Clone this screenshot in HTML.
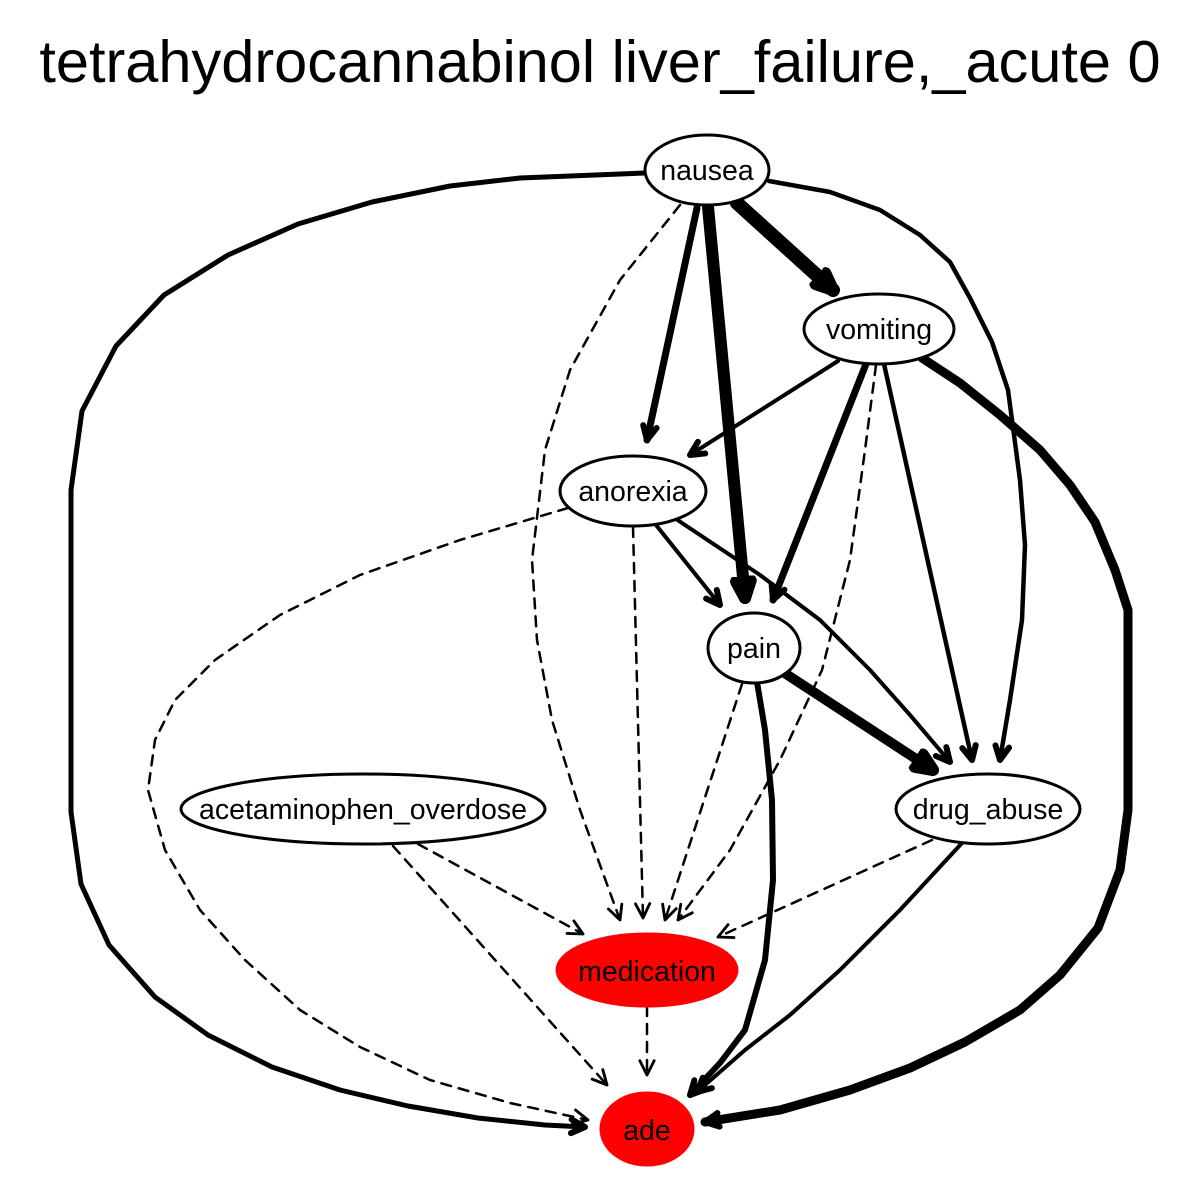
<!DOCTYPE html>
<html><head><meta charset="utf-8"><style>html,body{margin:0;padding:0;background:#fff}svg{display:block}</style></head>
<body>
<svg width="1200" height="1200" viewBox="0 0 1200 1200" xmlns="http://www.w3.org/2000/svg">
<defs>
<marker id="a" markerUnits="userSpaceOnUse" markerWidth="20" markerHeight="20" refX="10" refY="5" viewBox="-2 -2 14 14" orient="auto"><path d="M0,0 L10,5 L0,10" fill="none" stroke="#000" stroke-width="2" stroke-linejoin="round" stroke-linecap="round"/></marker>
<marker id="b" markerUnits="userSpaceOnUse" markerWidth="24" markerHeight="24" refX="8" refY="5" viewBox="-2 -2 14 14" orient="auto"><path d="M0,1 L8,5 L0,9" fill="none" stroke="#000" stroke-width="3.5" stroke-linejoin="round" stroke-linecap="round"/></marker>
<marker id="c" markerUnits="userSpaceOnUse" markerWidth="34" markerHeight="34" refX="7" refY="5" viewBox="-2 -2 14 14" orient="auto"><path d="M0,2 L7,5 L0,8" fill="none" stroke="#000" stroke-width="5" stroke-linejoin="round" stroke-linecap="round"/></marker>
</defs>
<text x="600" y="82" font-family="Liberation Sans, sans-serif" font-size="59.5" text-anchor="middle">tetrahydrocannabinol liver_failure,_acute 0</text>
<g fill="none" stroke="#000" stroke-linecap="round" stroke-linejoin="round">
<polyline stroke-width="5" marker-end="url(#b)" points="645,173 520,178 450,186 372,202 298,224 228,255 164,295 116,346 82,411 71,490 71,812 81,884 109,945 155,997 208,1035 272,1067 340,1090 408,1106 478,1118 545,1125 585,1127"/>
<line stroke-width="14" marker-end="url(#c)" x1="737" y1="203" x2="833" y2="290"/>
<line stroke-width="7" marker-end="url(#b)" x1="697" y1="208" x2="647" y2="440"/>
<line stroke-width="12" marker-end="url(#c)" x1="708" y1="207" x2="745" y2="598"/>
<polyline stroke-width="4.5" marker-end="url(#b)" points="769,181 830,192 880,210 920,235 950,262 970,298 992,342 1008,390 1020,480 1025,545 1022,620 1010,700 1000,760"/>
<polyline stroke-width="2.5" stroke-dasharray="10,8" marker-end="url(#a)" points="680,205 620,280 570,370 545,450 532,560 537,640 552,720 580,810 620,920"/>
<line stroke-width="4" marker-end="url(#b)" x1="838" y1="361" x2="690" y2="455"/>
<line stroke-width="7" marker-end="url(#b)" x1="866" y1="364" x2="773" y2="600"/>
<line stroke-width="4.5" marker-end="url(#b)" x1="884" y1="364" x2="972" y2="760"/>
<polyline stroke-width="9" marker-end="url(#b)" points="922,358 960,383 1000,415 1040,450 1070,485 1095,522 1115,570 1128,610 1128,810 1120,870 1098,928 1060,975 1020,1010 965,1042 910,1068 850,1090 780,1110 705,1122"/>
<polyline stroke-width="2.5" stroke-dasharray="10,8" marker-end="url(#a)" points="876,365 865,450 850,560 822,670 780,760 730,850 678,920"/>
<line stroke-width="4" marker-end="url(#b)" x1="656" y1="525" x2="720" y2="605"/>
<polyline stroke-width="4" marker-end="url(#b)" points="676,519 760,575 820,620 870,670 910,715 950,762"/>
<line stroke-width="2.5" stroke-dasharray="10,8" marker-end="url(#a)" x1="633" y1="527" x2="643" y2="918"/>
<polyline stroke-width="2.5" stroke-dasharray="10,8" marker-end="url(#a)" points="568,508 460,540 360,575 280,615 215,660 175,700 155,740 148,790 165,850 200,910 245,960 300,1010 360,1047 430,1080 510,1103 588,1120"/>
<line stroke-width="10" marker-end="url(#c)" x1="786" y1="674" x2="933" y2="770"/>
<line stroke-width="2.5" stroke-dasharray="10,8" marker-end="url(#a)" x1="742" y1="684" x2="665" y2="920"/>
<polyline stroke-width="6" marker-end="url(#b)" points="757,682 765,730 772,800 773,880 765,960 745,1030 720,1063 690,1095"/>
<line stroke-width="2.5" stroke-dasharray="10,8" marker-end="url(#a)" x1="932" y1="840" x2="718" y2="937"/>
<polyline stroke-width="4" marker-end="url(#b)" points="962,843 900,910 840,970 790,1015 745,1050 697,1092"/>
<line stroke-width="2.5" stroke-dasharray="10,8" marker-end="url(#a)" x1="418" y1="844" x2="583" y2="934"/>
<line stroke-width="2.5" stroke-dasharray="10,8" marker-end="url(#a)" x1="393" y1="846" x2="607" y2="1085"/>
<line stroke-width="2.5" stroke-dasharray="10,8" marker-end="url(#a)" x1="647" y1="1006" x2="647" y2="1075"/>
</g>
<g stroke="#000" stroke-width="3">
<ellipse cx="707" cy="170" rx="62" ry="35" fill="#fff"/>
<ellipse cx="879" cy="329" rx="75" ry="35" fill="#fff"/>
<ellipse cx="633" cy="491" rx="73" ry="35" fill="#fff"/>
<ellipse cx="754" cy="648" rx="46" ry="35" fill="#fff"/>
<ellipse cx="988" cy="809" rx="92" ry="35" fill="#fff"/>
<ellipse cx="363" cy="809" rx="182" ry="35" fill="#fff"/>
<ellipse cx="647" cy="970" rx="90" ry="36" fill="#f00" stroke="#f00"/>
<ellipse cx="647" cy="1129" rx="46" ry="36" fill="#f00" stroke="#f00"/>
</g>
<g font-family="Liberation Sans, sans-serif" font-size="28.5" text-anchor="middle" fill="#000">
<text x="707" y="180">nausea</text>
<text x="879" y="339">vomiting</text>
<text x="633" y="501">anorexia</text>
<text x="754" y="658">pain</text>
<text x="988" y="819">drug_abuse</text>
<text x="363" y="819">acetaminophen_overdose</text>
<text x="647" y="981">medication</text>
<text x="647" y="1140">ade</text>
</g>
</svg>
</body></html>
